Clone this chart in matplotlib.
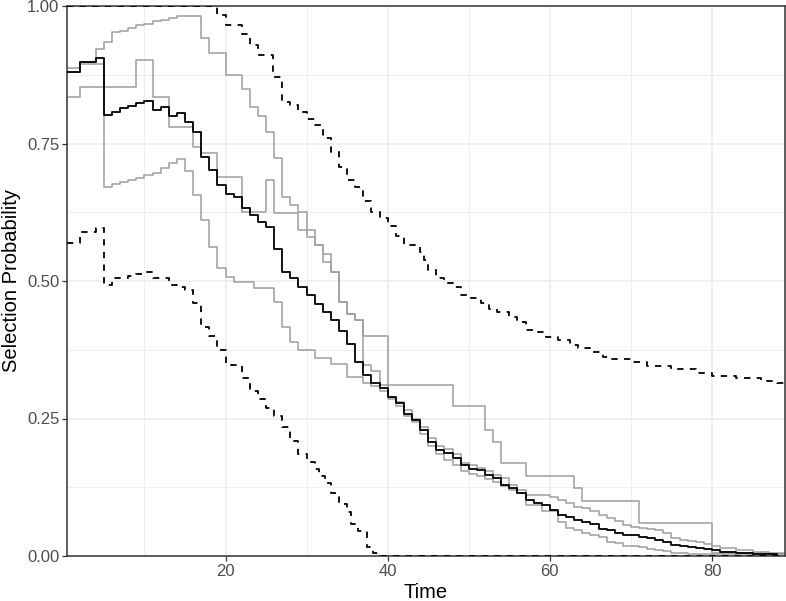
import matplotlib
matplotlib.use("Agg")
import matplotlib.pyplot as plt
from matplotlib.ticker import MultipleLocator

# step curves: time where the value changes, value from that time on
est_t = [0.45, 2, 4, 5, 6, 7, 8, 9, 10, 11, 12, 13, 14, 15, 16, 17, 18, 19, 20, 21, 22, 23, 24, 25,
         26, 27, 28, 29, 30, 31, 32, 33, 34, 35, 36, 37, 38, 39, 40, 41, 42, 43, 44, 45, 46, 47, 48,
         49, 50, 51, 52, 53, 54, 55, 56, 57, 58, 59, 60, 61, 62, 63, 64, 65, 66, 67, 68, 69, 70, 71,
         72, 73, 74, 75, 76, 77, 78, 79, 80, 81, 83, 85, 88]
est_p = [0.88, 0.899, 0.905, 0.802, 0.808, 0.814, 0.818, 0.824, 0.828, 0.811, 0.816, 0.800, 0.805,
         0.790, 0.771, 0.726, 0.702, 0.675, 0.659, 0.653, 0.632, 0.62, 0.608, 0.599, 0.559, 0.517,
         0.505, 0.49, 0.475, 0.459, 0.444, 0.429, 0.41, 0.385, 0.353, 0.329, 0.314, 0.305, 0.29,
         0.278, 0.259, 0.247, 0.229, 0.208, 0.193, 0.187, 0.178, 0.165, 0.159, 0.156, 0.147, 0.141,
         0.129, 0.123, 0.114, 0.102, 0.096, 0.093, 0.084, 0.075, 0.071, 0.065, 0.062, 0.059, 0.05,
         0.047, 0.042, 0.039, 0.038, 0.035, 0.033, 0.030, 0.026, 0.02, 0.018, 0.016, 0.015, 0.013,
         0.011, 0.008, 0.005, 0.004, 0.004]

upper_t = [0.45, 19, 20, 22, 23, 24, 25.8, 27, 28, 29, 30, 31, 32, 33, 34, 35, 36, 37, 38, 39, 40,
           41, 42, 44, 44.5, 45, 46, 47, 48, 49, 50, 51.5, 52.5, 53.5, 55, 56, 57, 58.5, 59.5, 61,
           62.5, 63.5, 65, 66.5, 67.5, 70, 72, 75, 78, 80, 83, 86, 88, 89]
upper_p = [1.0, 0.984, 0.965, 0.95, 0.929, 0.911, 0.871, 0.826, 0.82, 0.808, 0.795, 0.784, 0.76,
           0.735, 0.708, 0.684, 0.671, 0.645, 0.626, 0.614, 0.60, 0.582, 0.565, 0.553, 0.538, 0.52,
           0.505, 0.497, 0.489, 0.475, 0.469, 0.46, 0.45, 0.444, 0.435, 0.426, 0.411, 0.408, 0.399,
           0.393, 0.384, 0.378, 0.371, 0.362, 0.359, 0.352, 0.345, 0.34, 0.333, 0.328, 0.323, 0.318,
           0.314, 0.314]

lower_t = [0.45, 2, 4, 5, 6, 8, 9, 10, 11, 13, 14, 15, 16, 17, 18, 19, 20, 22, 23, 24, 25, 26, 27,
           28, 29, 30, 31, 31.5, 32.3, 33, 34, 35, 35.5, 36.3, 37.4, 38.2, 39, 89]
lower_p = [0.569, 0.59, 0.596, 0.493, 0.505, 0.51, 0.513, 0.516, 0.505, 0.493, 0.49, 0.484, 0.46,
           0.417, 0.40, 0.375, 0.347, 0.323, 0.30, 0.285, 0.27, 0.255, 0.235, 0.21, 0.185, 0.171,
           0.158, 0.145, 0.132, 0.114, 0.095, 0.08, 0.058, 0.045, 0.017, 0.005, 0.0, 0.0]

# the three grey replicate curves
g1_t = [0.45, 2, 4, 5, 6, 7, 8, 9, 10, 11, 12, 13, 14, 17, 18, 20, 22, 23, 24, 25, 26, 27, 28, 29,
        30, 31, 32, 33, 34, 35, 36, 37, 40, 48, 52, 53, 54, 57, 63, 64, 71, 80, 89]
g1_p = [0.88, 0.899, 0.922, 0.935, 0.952, 0.955, 0.96, 0.965, 0.968, 0.972, 0.975, 0.978, 0.982,
        0.941, 0.914, 0.875, 0.85, 0.817, 0.80, 0.771, 0.723, 0.653, 0.638, 0.626, 0.593, 0.565,
        0.535, 0.517, 0.462, 0.44, 0.43, 0.40, 0.311, 0.272, 0.229, 0.207, 0.169, 0.145, 0.124,
        0.10, 0.06, 0.006, 0.006]

g2_t = [0.45, 2, 9, 11, 13, 16, 17, 19, 22, 25, 26, 29, 30, 31, 32, 33, 34, 35, 36, 37, 38, 39, 40,
        41, 42, 43, 44, 45, 46, 47, 48, 49, 50, 51, 52, 53, 54, 55, 56, 57, 60, 61, 62, 63, 64, 65,
        66, 67, 68, 69, 70, 71, 72, 73, 74, 75, 76, 77, 78, 79, 80, 81, 83, 85, 87, 89]
g2_p = [0.835, 0.853, 0.902, 0.835, 0.78, 0.744, 0.732, 0.69, 0.626, 0.684, 0.623, 0.593, 0.58,
        0.565, 0.55, 0.517, 0.462, 0.44, 0.43, 0.347, 0.336, 0.311, 0.29, 0.28, 0.265, 0.25, 0.235,
        0.215, 0.2, 0.195, 0.185, 0.17, 0.165, 0.16, 0.155, 0.147, 0.141, 0.13, 0.12, 0.111, 0.107,
        0.102, 0.096, 0.09, 0.087, 0.081, 0.075, 0.069, 0.063, 0.056, 0.053, 0.051, 0.049, 0.047,
        0.042, 0.033, 0.03, 0.027, 0.026, 0.022, 0.018, 0.015, 0.011, 0.007, 0.004, 0.004]

g3_t = [0.45, 2, 5, 6, 7, 8, 9, 10, 11, 12, 13, 14, 15, 16, 17, 18, 19, 20, 21, 23.5, 26, 27, 28,
        29, 31, 33, 35, 37, 38, 39, 40, 41, 42, 43, 44, 45, 46, 47, 48, 49, 50, 51, 52, 53, 54, 55,
        56, 57, 59, 61, 62, 63, 64, 65, 66, 67, 68, 69, 70, 71, 72, 73, 74, 75, 76, 77, 89]
g3_p = [0.887, 0.895, 0.671, 0.677, 0.68, 0.684, 0.687, 0.693, 0.697, 0.705, 0.714, 0.721, 0.70,
        0.656, 0.611, 0.562, 0.523, 0.508, 0.499, 0.487, 0.462, 0.417, 0.39, 0.375, 0.36, 0.35,
        0.325, 0.314, 0.31, 0.30, 0.285, 0.272, 0.255, 0.243, 0.222, 0.2, 0.185, 0.175, 0.165,
        0.155, 0.15, 0.145, 0.14, 0.135, 0.127, 0.12, 0.114, 0.093, 0.081, 0.062, 0.051, 0.047,
        0.042, 0.039, 0.035, 0.026, 0.024, 0.019, 0.018, 0.016, 0.013, 0.011, 0.009, 0.006, 0.005,
        0.003, 0.003]

plt.rcParams['font.family'] = ['Liberation Sans', 'DejaVu Sans']

fig = plt.figure(figsize=(7.86, 6.01), dpi=100)
ax = fig.add_axes([67 / 786, 1 - 556 / 601, 718 / 786, 550 / 601])

grey = '#9e9e9e'
for tt, pp in [(g1_t, g1_p), (g2_t, g2_p), (g3_t, g3_p)]:
    ax.step(tt, pp, where='post', color=grey, lw=1.1, zorder=2)
ax.step(est_t, est_p, where='post', color='black', lw=1.3, zorder=3)
for tt, pp in [(upper_t, upper_p), (lower_t, lower_p)]:
    ax.step(tt, pp, where='post', color='black', lw=1.3, dashes=(3.5, 3.5), zorder=4)

ax.set_xlim(0.45, 89)
ax.set_ylim(0, 1)
ax.xaxis.set_major_locator(MultipleLocator(20))
ax.xaxis.set_minor_locator(MultipleLocator(10))
ax.yaxis.set_major_locator(MultipleLocator(0.25))
ax.yaxis.set_minor_locator(MultipleLocator(0.125))
ax.yaxis.set_major_formatter(matplotlib.ticker.FormatStrFormatter('%.2f'))

# theme_bw look
ax.grid(which='major', color='#ebebeb', lw=1.1, zorder=0)
ax.grid(which='minor', color='#ebebeb', lw=0.55, zorder=0)
ax.set_axisbelow(True)
for s in ax.spines.values():
    s.set_color('#333333')
    s.set_linewidth(1.1)
ax.tick_params(which='major', length=3.5, width=0.9, color='#333333',
               labelsize=12, labelcolor='#4d4d4d', pad=2)
ax.tick_params(which='minor', length=0)

ax.set_xlabel('Time', fontsize=14.5, labelpad=3)
ax.set_ylabel('Selection Probability', fontsize=14.5, labelpad=4)

fig.savefig('out.png', dpi=100)
